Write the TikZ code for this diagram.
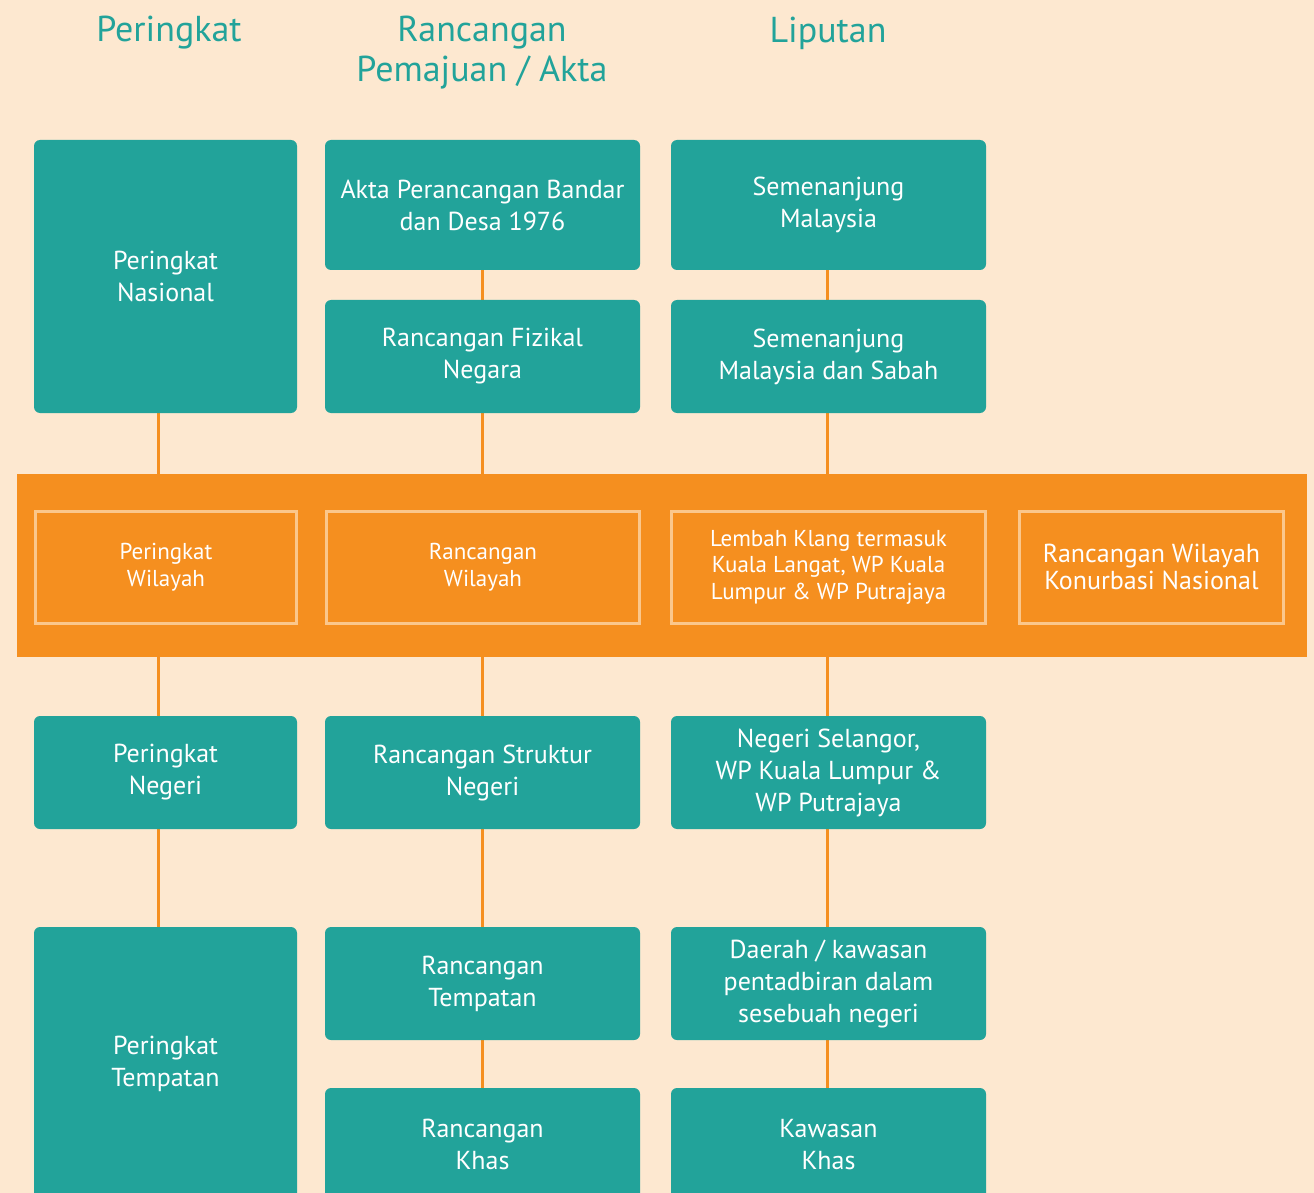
\documentclass[tikz,border=0pt]{standalone}
\usepackage{fontspec}
\setmainfont{PT Sans}
\usetikzlibrary{backgrounds}
\definecolor{peach}{RGB}{253,232,208}
\definecolor{tealc}{RGB}{34,163,154}
\definecolor{orangec}{RGB}{245,143,31}
\definecolor{lightor}{RGB}{251,199,139}

\tikzset{
  tealbox/.style={fill=tealc, rounded corners=3pt, text=white, align=center,
    inner sep=0pt, font=\fontsize{13}{16}\selectfont},
  orbox/.style={draw=lightor, line width=1.5pt, fill=orangec, text=white,
    align=center, inner sep=0pt, minimum height=56pt},
  small/.style={font=\fontsize{11.5}{13.25}\selectfont},
  head/.style={text=tealc, align=center, font=\fontsize{18}{20}\selectfont},
  link/.style={draw=orangec, line width=1.5pt}
}

\begin{document}
\begin{tikzpicture}[x=0.5pt,y=-0.5pt]
\useasboundingbox (0,0) rectangle (1314,1193);
\clip (0,0) rectangle (1314,1193);
% headings
\node[head] (h1) at (169,33) {Peringkat};
\node[head] (h2) at (482,53) {Rancangan\\Pemajuan / Akta};
\node[head] (h3) at (828,33) {Liputan};
% the orange band
\fill[orangec] (17,474) rectangle (1307,657);
\node[orbox, small, minimum width=130.5pt] (wil) at (166,567) {Peringkat\\Wilayah};
\node[orbox, small, minimum width=156.5pt] (rwil) at (483,567) {Rancangan\\Wilayah};
\node[orbox, small, minimum width=157pt] (lem) at (828.5,567) {Lembah Klang termasuk\\Kuala Langat, WP Kuala\\Lumpur \& WP Putrajaya};
\node[orbox, font=\fontsize{13}{13.5}\selectfont, minimum width=132pt] (kon) at (1151.5,567) {Rancangan Wilayah\\Konurbasi Nasional};
%     1st column
\node[tealbox, minimum width=131.5pt, minimum height=136.5pt] (nas) at (165.5,276.5) {Peringkat\\Nasional};
\node[tealbox, minimum width=131.5pt, minimum height=56.5pt] (neg) at (165.5,772.5) {Peringkat\\Negeri};
\node[tealbox, minimum width=131.5pt, minimum height=136.5pt] (tem) at (165.5,1063.5) {Peringkat\\Tempatan};
%     2nd column
\node[tealbox, minimum width=157.5pt, minimum height=65pt] (akta) at (482.5,205) {Akta Perancangan Bandar\\dan Desa 1976};
\node[tealbox, minimum width=157.5pt, minimum height=56.5pt] (rfn) at (482.5,356.5) {Rancangan Fizikal\\Negara};
\node[tealbox, minimum width=157.5pt, minimum height=56.5pt] (rsn) at (482.5,772.5) {Rancangan Struktur\\Negeri};
\node[tealbox, minimum width=157.5pt, minimum height=56.5pt] (rtem) at (482.5,983.5) {Rancangan\\Tempatan};
\node[tealbox, minimum width=157.5pt, minimum height=56.5pt] (rkh) at (482.5,1144.5) {Rancangan\\Khas};
%     3rd column
\node[tealbox, minimum width=157.5pt, minimum height=65pt] (sem) at (828.5,205) {Semenanjung\\Malaysia};
\node[tealbox, minimum width=157.5pt, minimum height=56.5pt] (sab) at (828.5,356.5) {Semenanjung\\Malaysia dan Sabah};
\node[tealbox, minimum width=157.5pt, minimum height=56.5pt] (sel) at (828.5,772.5) {Negeri Selangor,\\WP Kuala Lumpur \&\\WP Putrajaya};
\node[tealbox, minimum width=157.5pt, minimum height=56.5pt] (dae) at (828.5,983.5) {Daerah / kawasan\\pentadbiran dalam\\sesebuah negeri};
\node[tealbox, minimum width=157.5pt, minimum height=56.5pt] (kkh) at (828.5,1144.5) {Kawasan\\Khas};
% background and the links
\begin{scope}[on background layer]
\fill[peach] (0,0) rectangle (1314,1193);
\draw[link] ([xshift=-3.75pt]nas.south) -- ([xshift=-3.75pt]tem.north);
\draw[link] (akta.south) -- (rkh.north);
\draw[link] ([xshift=-0.75pt]sem.south) -- ([xshift=-0.75pt]kkh.north);
\end{scope}
\end{tikzpicture}
\end{document}
